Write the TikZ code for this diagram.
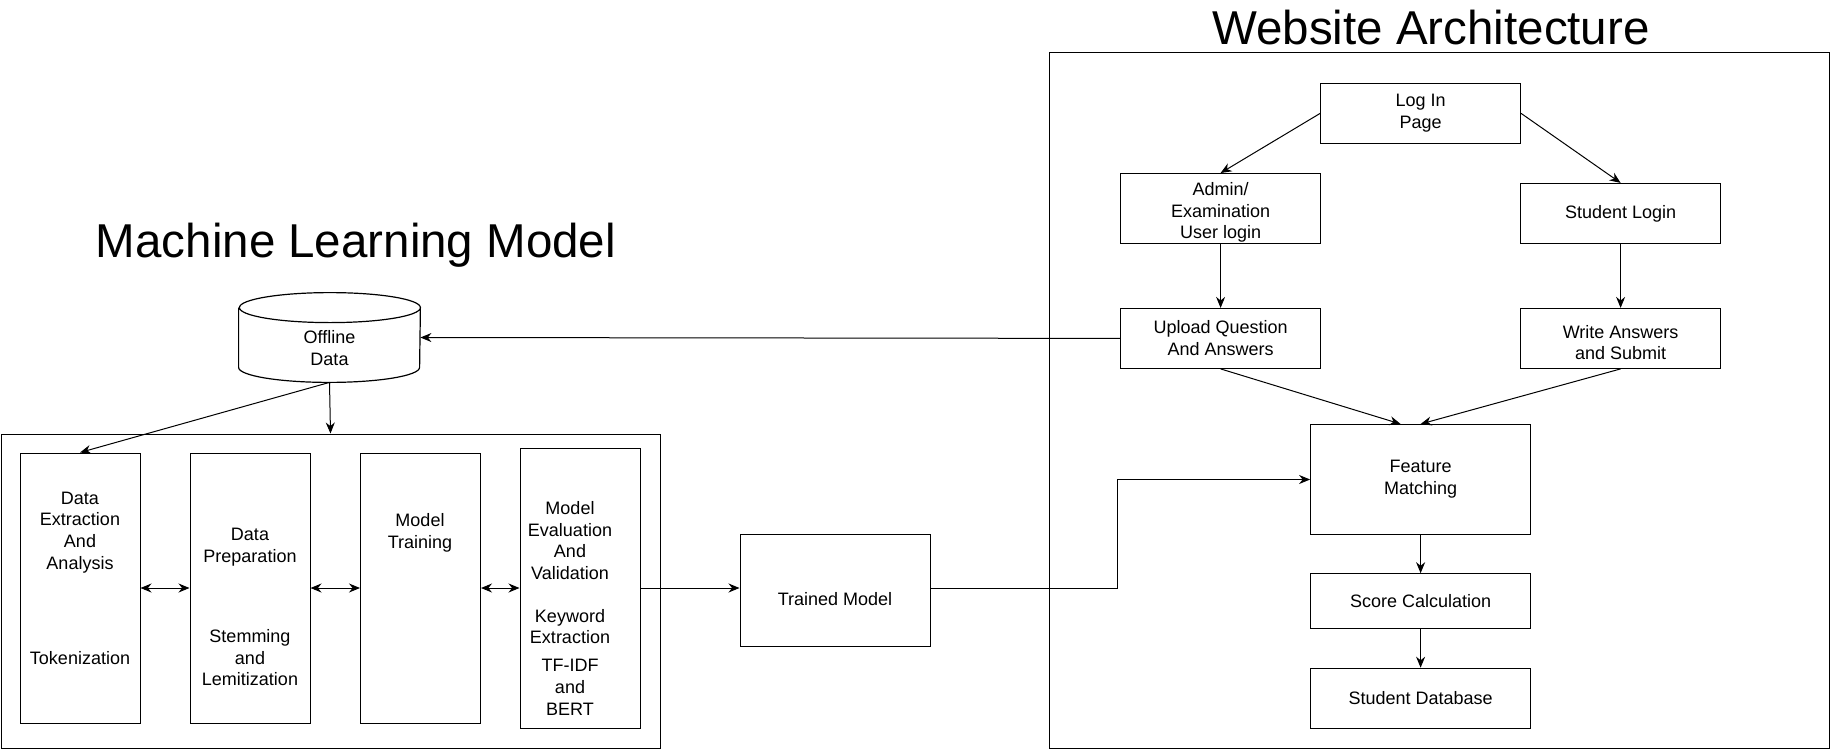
\documentclass[tikz,border=0pt]{standalone}
\usepackage{fontspec}
\setmainfont{Liberation Sans}
\usetikzlibrary{arrows.meta}
\tikzset{
  box/.style={draw, line width=0.5pt, inner sep=0pt, align=center, font=\fontsize{9}{10.85}\selectfont},
  txt/.style={inner sep=0pt, align=center, font=\fontsize{9}{10.85}\selectfont},
  ttl/.style={inner sep=0pt, anchor=base, font=\fontsize{23.75}{28}\selectfont},
  arr/.style={-{Stealth[length=5.5pt,width=4.5pt]}, line width=0.5pt},
  darr/.style={{Stealth[length=5.5pt,width=4.5pt]}-{Stealth[length=5.5pt,width=4.5pt]}, line width=0.5pt}
}
\begin{document}
\begin{tikzpicture}[x=0.5pt,y=-0.5pt]
\useasboundingbox (0,0) rectangle (1830,750);

\node[ttl] (mltitle) at (356,257) {Machine Learning Model};
\node[ttl] (wstitle) at (1431,44) {Website Architecture};

\node[box, minimum width=329.5pt, minimum height=157pt] (mlbox) at (330.5,591) {};
\node[box, minimum width=390pt, minimum height=348pt] (wsbox) at (1439,400.5) {};

\node[minimum width=90.5pt, minimum height=44.5pt, inner sep=0pt] (data) at (329.5,337.5) {};
\draw[line width=0.6pt] ([yshift=-7.5pt]data.north west) -- ([yshift=7.5pt]data.south west)
  arc[start angle=180, end angle=360, x radius=45.25pt, y radius=7.5pt]
  -- ([yshift=-7.5pt]data.north east)
  arc[start angle=0, end angle=180, x radius=45.25pt, y radius=7.5pt]
  arc[start angle=180, end angle=360, x radius=45.25pt, y radius=7.5pt];
\node[txt] (datatxt) at (329.5,348) {Offline\\Data};

\node[box, minimum width=60pt, minimum height=135pt] (b1) at (80,588) {};
\node[box, minimum width=60pt, minimum height=135pt] (b2) at (250,588) {};
\node[box, minimum width=60pt, minimum height=135pt] (b3) at (420.5,588) {};
\node[box, minimum width=60pt, minimum height=140pt] (b4) at (580,588) {};

\node[txt] (b1a) at (80,532.5) {Data\\Extraction\\And\\Analysis};
\node[txt] (b1b) at (80,657.7) {Tokenization};
\node[txt] (b2a) at (250,547.5) {Data\\Preparation};
\node[txt] (b2b) at (250,657.7) {Stemming\\and\\Lemitization};
\node[txt] (b3a) at (420,532.5) {Model\\Training};
\node[txt] (b4a) at (570,540.7) {Model\\Evaluation\\And\\Validation};
\node[txt] (b4b) at (570,626.5) {Keyword\\Extraction};
\node[txt] (b4c) at (570,687.3) {TF-IDF\\and\\BERT};

\node[box, minimum width=95pt, minimum height=56pt] (tm) at (835,590.5) {};
\node[txt] (tmtxt) at (835,599) {Trained Model};

\node[box, minimum width=100pt, minimum height=30pt] (login) at (1420.6,113.4) {Log In\\Page};
\node[box, minimum width=100pt, minimum height=35pt] (admin) at (1220.6,208.5) {};
\node[txt] (admintxt) at (1220.6,212.4) {Admin/\\Examination\\User login};
\node[box, minimum width=100pt, minimum height=30pt] (slogin) at (1620.6,213.4) {Student Login};
\node[box, minimum width=100pt, minimum height=30pt] (upload) at (1220.6,338.4) {Upload Question\\And Answers};
\node[box, minimum width=100pt, minimum height=30pt] (write) at (1620.6,338.4) {};
\node[txt] (writetxt) at (1620.6,342.5) {Write Answers\\and Submit};
\node[box, minimum width=110pt, minimum height=55pt] (feat) at (1420.6,479.5) {Feature\\Matching};
\node[box, minimum width=110pt, minimum height=27.5pt] (score) at (1420.6,601.2) {Score Calculation};
\node[box, minimum width=110pt, minimum height=30pt] (sdb) at (1420.6,698.2) {Student Database};

\coordinate (bend) at (1117,588);

\draw[arr] (data.south) -- (b1.north);
\draw[arr] (data.south) -- (mlbox.north);
\draw[darr] (b1.east) -- (b2.west);
\draw[darr] (b2.east) -- (b3.west);
\draw[darr] (b3.east) -- (b4.west);
\draw[arr] (b4.east) -- (b4.east -| tm.west);
\draw[arr] (tm.east |- b4.east) -- (bend) |- (feat.west);

\draw[arr] (login.west) -- (admin.north);
\draw[arr] (login.east) -- (slogin.north);
\draw[arr] (admin.south) -- (upload.north);
\draw[arr] (slogin.south) -- (write.north);
\draw[arr] (upload.west) -- (data.east);
\draw[arr] (upload.south) -- ([xshift=-10pt]feat.north);
\draw[arr] (write.south) -- (feat.north);
\draw[arr] (feat.south) -- (score.north);
\draw[arr] (score.south) -- (sdb.north);
\end{tikzpicture}
\end{document}
